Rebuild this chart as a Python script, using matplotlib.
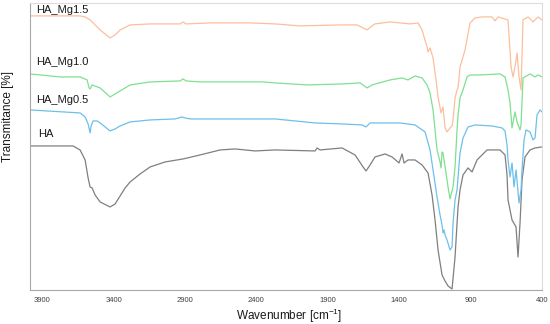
# FTIR spectra of HA and Mg-doped HA, stacked
import matplotlib.pyplot as plt
import matplotlib

matplotlib.rcParams['font.family'] = ['Liberation Sans', 'DejaVu Sans']
matplotlib.rcParams['mathtext.fontset'] = 'custom'
matplotlib.rcParams['mathtext.rm'] = 'Liberation Sans'
matplotlib.rcParams['mathtext.it'] = 'Liberation Sans'

# spectra (wavenumber in cm-1, transmittance in arbitrary stacked units)
ha_wn = [3984, 3683, 3634, 3599, 3578, 3564, 3550, 3529, 3494, 3424, 3389, 3354, 3319,
         3284, 3214, 3144, 3039, 2913, 2794, 2654, 2549, 2409, 2269, 1989, 1975, 1954,
         1800, 1709, 1653, 1632, 1604, 1569, 1499, 1450, 1401, 1380, 1366, 1338, 1289,
         1240, 1198, 1170, 1149, 1128, 1100, 1079, 1058, 1030, 1009, 988, 974, 953, 918,
         890, 855, 785, 694, 659, 645, 638, 610, 582, 568, 554, 540, 519, 484, 449, 400]
ha_t = [144, 144, 140, 130, 112, 103, 102, 95, 88, 83, 86, 94, 102,
        108, 116, 123, 128, 131, 135, 140, 141, 139, 140, 139, 142, 140,
        142, 135, 123, 119, 125, 133, 136, 133, 127, 136, 127, 130, 130,
        125, 117, 95, 70, 40, 15, 9, 4, 1, 33, 83, 100, 115, 122,
        118, 130, 140, 140, 135, 115, 90, 70, 63, 33, 67, 110, 133, 140, 142, 143]

mg05_wn = [3984, 3634, 3599, 3578, 3564, 3557, 3543, 3515, 3494, 3459, 3424, 3389, 3354,
           3284, 3144, 2969, 2920, 2899, 2864, 2584, 2269, 1989, 1800, 1660, 1632, 1604,
           1394, 1289, 1219, 1184, 1163, 1135, 1114, 1100, 1093, 1086, 1079, 1065, 1044,
           1030, 1023, 1009, 995, 981, 974, 953, 918, 869, 750, 680, 659, 645, 638, 624,
           617, 610, 596, 582, 561, 547, 540, 526, 512, 484, 463, 449, 435, 414, 400]
mg05_t = [180, 177, 173, 166, 157, 164, 169, 169, 167, 163, 159, 161, 164,
          168, 170, 171, 173, 172, 171, 171, 171, 167, 166, 165, 163, 167,
          167, 165, 158, 140, 120, 93, 75, 65, 57, 60, 55, 50, 40,
          43, 67, 90, 100, 125, 137, 152, 163, 165, 164, 162, 159, 145, 130, 113,
          120, 127, 103, 120, 87, 100, 120, 150, 160, 158, 150, 152, 175, 180, 178]

mg10_wn = [3984, 3774, 3634, 3585, 3571, 3564, 3550, 3494, 3424, 3354, 3284, 3144, 2934,
           2913, 2892, 2794, 2353, 2269, 2038, 1800, 1674, 1625, 1590, 1464, 1380, 1338,
           1289, 1240, 1205, 1184, 1163, 1135, 1114, 1107, 1100, 1093, 1058, 1044, 1023,
           1009, 995, 988, 974, 953, 925, 904, 834, 694, 659, 638, 624, 610, 589, 575,
           554, 547, 533, 484, 449, 428, 400]
mg10_t = [216, 213, 213, 210, 202, 201, 205, 202, 193, 199, 205, 208, 209,
          211, 209, 208, 208, 207, 205, 206, 207, 202, 205, 210, 212, 210,
          214, 212, 205, 197, 180, 140, 128, 122, 138, 137, 103, 91, 103,
          123, 160, 175, 192, 200, 213, 215, 215, 216, 213, 200, 187, 162, 178, 168,
          160, 165, 212, 216, 213, 215, 213]

mg15_wn = [3984, 3634, 3599, 3564, 3494, 3424, 3389, 3354, 3284, 3144, 2934, 2913, 2892,
           2724, 2444, 2269, 2094, 1814, 1695, 1653, 1625, 1590, 1569, 1464, 1324, 1268,
           1240, 1205, 1198, 1184, 1163, 1142, 1128, 1107, 1093, 1079, 1065, 1044, 1030,
           1023, 1009, 995, 988, 974, 939, 904, 869, 820, 750, 729, 708, 638, 617, 603,
           589, 575, 561, 547, 533, 498, 463, 428, 400]
mg15_t = [274, 274, 273, 270, 260, 252, 255, 260, 265, 266, 266, 268, 266,
          267, 267, 266, 264, 265, 265, 262, 260, 264, 266, 268, 266, 267,
          260, 243, 238, 242, 232, 210, 193, 177, 183, 162, 158, 162, 164,
          170, 192, 200, 202, 223, 240, 267, 272, 273, 273, 269, 273, 270, 223, 213,
          223, 237, 213, 200, 270, 273, 268, 273, 270]

labels = ['HA', 'HA_Mg0.5', 'HA_Mg1.0', 'HA_Mg1.5']
colors = ['#7f7f7f', '#6cc0ea', '#7fe08f', '#fcbf9c']
x_ticks = [3900, 3400, 2900, 2400, 1900, 1400, 900, 400]

fig = plt.figure(figsize=(5.5, 3.24), dpi=100)
ax = fig.add_axes([0.0545, 0.105, 0.931, 0.886])

spectra = [(ha_wn, ha_t), (mg05_wn, mg05_t), (mg10_wn, mg10_t), (mg15_wn, mg15_t)]
for (wn, t), c in zip(spectra, colors):
    ax.plot(wn, t, color=c, linewidth=0.9)

# curve names, placed at the left above each trace
label_pos = [(0.016, 0.544), (0.012, 0.662), (0.012, 0.794), (0.012, 0.976)]
for name, (lx, ly) in zip(labels, label_pos):
    ax.text(lx, ly, name, transform=ax.transAxes, fontsize=8, va='center',
            ha='left', color='#1a1a1a')

ax.set_xlim(3985, 400)
ax.set_ylim(0, 287)
ax.set_xticks(x_ticks)
ax.set_yticks([])
ax.tick_params(axis='x', length=0, pad=5, labelsize=5.5, labelcolor='#404040')

for side in ['top', 'right']:
    ax.spines[side].set_color('#dcdcdc')
for side in ['left', 'bottom']:
    ax.spines[side].set_color('#a8a8a8')

ax.set_xlabel(r'Wavenumber [cm$^{-1}$]', fontsize=8.5, color='#1a1a1a', va='center')
ax.xaxis.set_label_coords(0.506, -0.092)
ax.set_ylabel('Transmitance [%]', fontsize=8.5, color='#1a1a1a', va='center')
ax.yaxis.set_label_coords(-0.043, 0.603)

fig.savefig('out.png', dpi=100)
